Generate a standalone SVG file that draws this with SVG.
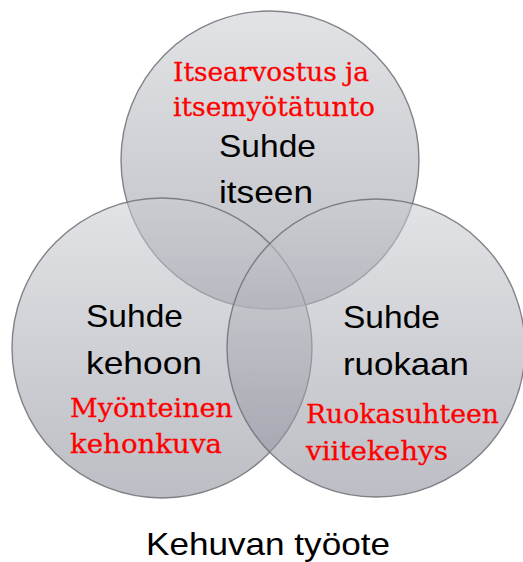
<svg xmlns="http://www.w3.org/2000/svg" width="523" height="562" viewBox="0 0 523 562">
<style>
.circ{stroke:#6f7074;stroke-width:1.4;stroke-opacity:0.85}
.lbl{font-family:"Liberation Sans",Arial,sans-serif;font-size:32px;fill:#000}
.red{font-family:"DejaVu Serif","Liberation Serif",serif;font-size:26px;fill:#ff0000;stroke:#ff0000;stroke-width:0.3}
</style>
<defs>
<linearGradient id="g" x1="0" y1="0" x2="0" y2="1">
<stop offset="0" stop-color="#cbcdd2"/>
<stop offset="1" stop-color="#878b97"/>
</linearGradient>
</defs>
<rect width="523" height="562" fill="#fff"/>
<g id="circle-top">
<circle class="circ" cx="270" cy="160" r="149" fill="url(#g)" fill-opacity="0.56"/>
</g>
<g id="circle-left">
<circle class="circ" cx="162" cy="348" r="150" fill="url(#g)" fill-opacity="0.56"/>
</g>
<g id="circle-right">
<circle class="circ" cx="376" cy="348" r="149" fill="url(#g)" fill-opacity="0.56"/>
</g>
<g id="label-top">
<text class="red" x="173" y="81" textLength="196" lengthAdjust="spacingAndGlyphs">Itsearvostus ja</text>
<text class="red" x="173" y="116" textLength="202" lengthAdjust="spacingAndGlyphs">itsemyötätunto</text>
<text class="lbl" x="219" y="157" textLength="97" lengthAdjust="spacingAndGlyphs">Suhde</text>
<text class="lbl" x="219" y="203" textLength="94" lengthAdjust="spacingAndGlyphs">itseen</text>
</g>
<g id="label-left">
<text class="lbl" x="86" y="327" textLength="97" lengthAdjust="spacingAndGlyphs">Suhde</text>
<text class="lbl" x="86" y="374" textLength="116" lengthAdjust="spacingAndGlyphs">kehoon</text>
<text class="red" x="70" y="417" textLength="163" lengthAdjust="spacingAndGlyphs">Myönteinen</text>
<text class="red" x="70" y="453" textLength="152" lengthAdjust="spacingAndGlyphs">kehonkuva</text>
</g>
<g id="label-right">
<text class="lbl" x="343" y="328" textLength="97" lengthAdjust="spacingAndGlyphs">Suhde</text>
<text class="lbl" x="343" y="375" textLength="126" lengthAdjust="spacingAndGlyphs">ruokaan</text>
<text class="red" x="306" y="423" textLength="193" lengthAdjust="spacingAndGlyphs">Ruokasuhteen</text>
<text class="red" x="306" y="460" textLength="142" lengthAdjust="spacingAndGlyphs">viitekehys</text>
</g>
<g id="caption">
<text class="lbl" x="146" y="555" textLength="244" lengthAdjust="spacingAndGlyphs">Kehuvan työote</text>
</g>
<g id="connectors"/>
</svg>
